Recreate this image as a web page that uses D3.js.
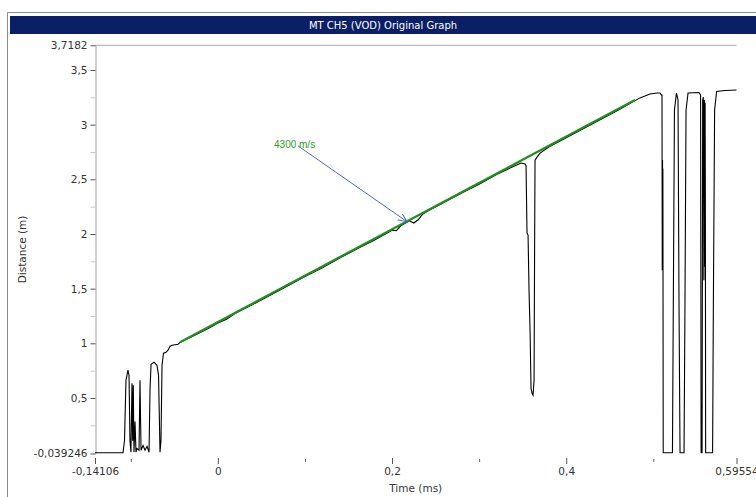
<!DOCTYPE html>
<html><head><meta charset="utf-8">
<script src="https://cdn.jsdelivr.net/npm/d3@7"></script>
<style>html,body{margin:0;padding:0;background:#fff;} svg{display:block}</style>
</head><body><svg id="c" width="756" height="497"></svg>
<script>
// ---- data ----
const chartTitle = "MT CH5 (VOD) Original Graph";
const xAxisTitle = "Time (ms)";
const yAxisTitle = "Distance (m)";
const xTickValues = [-0.14106, 0, 0.2, 0.4, 0.59554];
const xTickLabels = ["-0,14106", "0", "0,2", "0,4", "0,59554"];
const xMinorTicks = [-0.1, 0.1, 0.3, 0.5];
const yTickValues = [-0.039246, 0.5, 1, 1.5, 2, 2.5, 3, 3.5, 3.7182];
const yTickLabels = ["-0,039246", "0,5", "1", "1,5", "2", "2,5", "3", "3,5", "3,7182"];
const yMinorTicks = [0.25, 0.75, 1.25, 1.75, 2.25, 2.75, 3.25];
const traceTime = [-0.14106,-0.1089,-0.1072,-0.1055,-0.1032,-0.1020,-0.1009,-0.0998,-0.0986,-0.0978,-0.0971,-0.0963,-0.0951,-0.0940,-0.0928,-0.0905,-0.0894,-0.0882,-0.0859,-0.0836,-0.0813,-0.0790,-0.0779,-0.0767,-0.0733,-0.0699,-0.0681,-0.0664,-0.0653,-0.0641,-0.0624,-0.0595,-0.0572,-0.0549,-0.0526,-0.0492,-0.0457,-0.0423,-0.03,-0.01,0.0,0.01,0.02,0.04,0.06,0.08,0.1,0.12,0.14,0.16,0.18,0.2,0.205,0.21,0.22,0.225,0.23,0.235,0.24,0.26,0.28,0.30,0.32,0.34,0.3481,0.3527,0.3539,0.3550,0.3562,0.3573,0.3585,0.3596,0.3608,0.3619,0.3631,0.3637,0.3642,0.3665,0.3700,0.38,0.40,0.42,0.44,0.46,0.479,0.4847,0.4904,0.4962,0.5042,0.5077,0.5094,0.5100,0.5103,0.5106,0.5108,0.5110,0.5114,0.5220,0.5230,0.5243,0.5266,0.5284,0.5295,0.5307,0.5353,0.5364,0.5376,0.5399,0.5525,0.5543,0.5549,0.5560,0.5567,0.5574,0.5581,0.5587,0.5591,0.5595,0.5598,0.5601,0.5681,0.5690,0.5704,0.5727,0.5825,0.59554];
const traceDist = [-0.031,-0.031,0.091,0.662,0.754,0.707,0.091,-0.026,0.635,0.091,0.617,-0.026,0.285,-0.026,0.013,-0.006,0.662,-0.006,0.043,-0.006,0.034,-0.026,0.574,0.809,0.827,0.799,0.707,-0.026,0.091,0.799,0.909,0.918,0.937,0.973,0.982,0.987,0.992,1.015,1.06,1.14,1.185,1.22,1.275,1.355,1.44,1.525,1.61,1.69,1.78,1.865,1.945,2.035,2.03,2.075,2.12,2.10,2.13,2.18,2.205,2.29,2.375,2.455,2.545,2.62,2.649,2.640,2.622,2.008,1.990,1.486,1.120,0.589,0.543,0.525,0.662,1.852,2.676,2.703,2.74,2.795,2.88,2.965,3.05,3.135,3.22,3.245,3.262,3.281,3.290,3.290,3.270,3.270,1.669,2.676,1.7,2.6,-0.031,-0.031,1.394,3.134,3.290,3.226,1.394,-0.031,-0.031,1.394,3.134,3.290,3.294,3.271,-0.031,-0.031,3.226,3.253,1.577,3.226,1.7,3.2,2.3,-0.031,-0.031,1.394,3.134,3.303,3.312,3.317];
const fitTime = [-0.0435, 0.479];
const fitDist = [1.010, 3.226];
const annotLabel = "4300 m/s";
const annotPos = [0.0645, 2.787];
const arrowFrom = [0.092, 2.806];
const arrowTo = [0.2172, 2.113];

// ---- drawing ----
const svg = d3.select("#c");
const x = d3.scaleLinear().domain([-0.14106, 0.59554]).range([95, 736.5]);
const y = d3.scaleLinear().domain([-0.039246, 0.25, 3.5, 3.7182]).range([453.5, 425.3, 70, 45.3]);
const FONT = "Tahoma, 'DejaVu Sans', sans-serif";

// outer frame
svg.append("path").attr("d", "M7.5,497 V12.5 H756").attr("fill", "none").attr("stroke", "#8a8a8a");
svg.append("rect").attr("x", 10).attr("y", 16).attr("width", 746).attr("height", 18).attr("fill", "#0b1f66");
svg.append("text").attr("x", 383).attr("y", 29).attr("text-anchor", "middle")
  .attr("font-family", FONT).attr("font-size", 10).attr("fill", "#fff").text(chartTitle);

// top line
svg.append("line").attr("x1", x.range()[0]).attr("x2", x.range()[1])
  .attr("y1", y(3.7182)).attr("y2", y(3.7182)).attr("stroke", "#a8a8a8");

// y axis
const yAxisG = svg.append("g").attr("transform", "translate(95.5,0)")
  .call(d3.axisLeft(y).tickValues(yTickValues).tickFormat((d, i) => yTickLabels[i]).tickSize(5).tickSizeOuter(0).tickPadding(3));
yAxisG.select(".domain").attr("stroke", "#a0a0a0");
yAxisG.selectAll(".tick line").attr("stroke", "#555");
yAxisG.selectAll("text").attr("font-family", FONT).attr("font-size", 10.5).attr("fill", "#333");
const yMinorG = svg.append("g").attr("transform", "translate(95.5,0)")
  .call(d3.axisLeft(y).tickValues(yMinorTicks).tickFormat("").tickSize(5));
yMinorG.select(".domain").remove();
yMinorG.selectAll(".tick line").attr("stroke", "#c8c8c8");

// x axis
const xAxisG = svg.append("g").attr("transform", "translate(0,458)")
  .call(d3.axisBottom(x).tickValues(xTickValues).tickFormat((d, i) => xTickLabels[i]).tickSize(6).tickSizeOuter(0).tickPadding(4));
xAxisG.select(".domain").remove();
xAxisG.selectAll(".tick line").attr("stroke", "#555");
xAxisG.selectAll("text").attr("font-family", FONT).attr("font-size", 10.5).attr("fill", "#333");
const xMinorG = svg.append("g").attr("transform", "translate(0,459)")
  .call(d3.axisBottom(x).tickValues(xMinorTicks).tickFormat("").tickSize(3));
xMinorG.select(".domain").remove();
xMinorG.selectAll(".tick line").attr("stroke", "#666");

// axis titles
svg.append("text").attr("x", (x.range()[0] + x.range()[1]) / 2).attr("y", 492).attr("text-anchor", "middle")
  .attr("font-family", FONT).attr("font-size", 10.5).attr("fill", "#333").text(xAxisTitle);
svg.append("text").attr("transform", "translate(22," + ((y.range()[0] + y.range()[3]) / 2) + ") rotate(-90)")
  .attr("text-anchor", "middle").attr("dominant-baseline", "central")
  .attr("font-family", FONT).attr("font-size", 10.5).attr("fill", "#333").text(yAxisTitle);

// trace
const trace = traceTime.map((t, i) => [t, traceDist[i]]);
const line = d3.line().x(d => x(d[0])).y(d => y(d[1]));
svg.append("path").datum(trace).attr("d", line).attr("fill", "none").attr("stroke", "#000").attr("stroke-width", 1.1);

// fit line
const fit = fitTime.map((t, i) => [t, fitDist[i]]);
svg.append("path").datum(fit).attr("d", line).attr("fill", "none").attr("stroke", "#1f8f1f").attr("stroke-width", 2.2);

// annotation
const defs = svg.append("defs");
defs.append("marker").attr("id", "arr").attr("markerUnits", "userSpaceOnUse")
  .attr("markerWidth", 12).attr("markerHeight", 10).attr("refX", 9).attr("refY", 4).attr("orient", "auto")
  .append("path").attr("d", "M0,0 L9,4 L0,8").attr("fill", "none").attr("stroke", "#4a6cb8").attr("stroke-width", 1);
svg.append("line").attr("x1", x(arrowFrom[0])).attr("y1", y(arrowFrom[1]))
  .attr("x2", x(arrowTo[0])).attr("y2", y(arrowTo[1]))
  .attr("stroke", "#4a6cb8").attr("stroke-width", 1).attr("marker-end", "url(#arr)");
svg.append("text").attr("x", x(annotPos[0])).attr("y", y(annotPos[1]))
  .attr("font-family", "'Liberation Sans', Arial, sans-serif").attr("font-size", 10).attr("fill", "#2a9a2a").text(annotLabel);
</script></body></html>
